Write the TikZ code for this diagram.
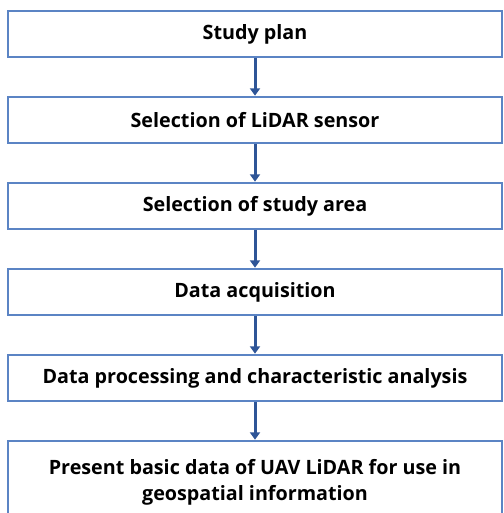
\documentclass[tikz,border=0pt]{standalone}
\usepackage{fontspec}
\setmainfont{Open Sans}
\usetikzlibrary{positioning,arrows.meta}
\definecolor{boxblue}{HTML}{5B84C4}
\definecolor{arrowblue}{HTML}{2E5597}

\begin{document}
\begin{tikzpicture}[
    x=0.75pt, y=0.75pt,
    node distance=28pt,
    stepbox/.style={rectangle, draw=boxblue, line width=1.5pt, fill=white, minimum width=370.5pt, minimum height=35pt, align=center, inner sep=0pt, font=\bfseries\fontsize{14.8}{19.5}\selectfont},
    arrow/.style={-{Triangle[width=7.5pt,length=5.5pt]}, draw=arrowblue, line width=2.25pt}
]
\useasboundingbox (0,0) rectangle (503,-513);
\clip (0,0) rectangle (503,-513);

% Steps of the study
\node[stepbox] (plan) at (255,-34) {Study plan};
\node[stepbox, below=of plan] (sensor) {Selection of LiDAR sensor};
\node[stepbox, below=of sensor] (area) {Selection of study area};
\node[stepbox, below=of area] (acq) {Data acquisition};
\node[stepbox, below=of acq] (proc) {Data processing and characteristic analysis};
\node[stepbox, below=of proc, minimum height=63pt, anchor=north] (result) {Present basic data of UAV LiDAR for use in\\geospatial information};

% Arrows
\draw[arrow] (plan) -- (sensor);
\draw[arrow] (sensor) -- (area);
\draw[arrow] (area) -- (acq);
\draw[arrow] (acq) -- (proc);
\draw[arrow] (proc) -- (result);

\end{tikzpicture}
\end{document}
